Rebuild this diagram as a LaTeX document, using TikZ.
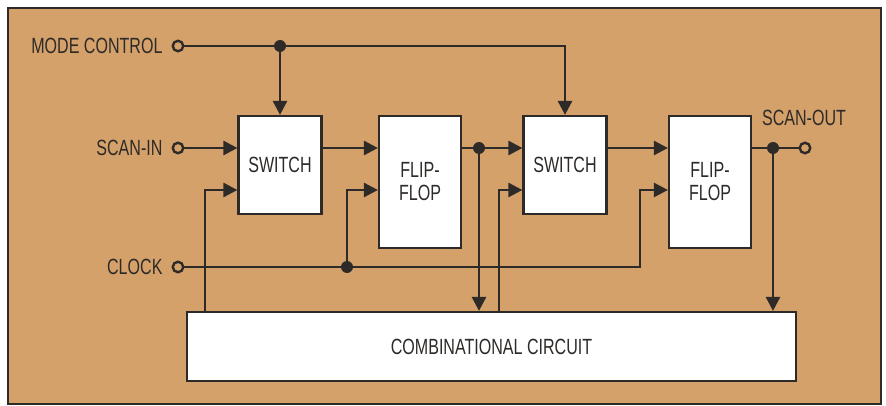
\documentclass[tikz,border=0pt]{standalone}
\usepackage{fontspec}
\newfontfamily\diagfont{Liberation Sans}[FakeStretch=0.73]
\usepackage{xcolor}
\usetikzlibrary{arrows.meta}
\definecolor{panel}{RGB}{212,161,106}
\definecolor{ink}{RGB}{45,42,40}

\begin{document}
\begin{tikzpicture}
  [x=1pt,y=-1pt,
  every node/.style={font=\diagfont\fontsize{22}{23}\selectfont,text=ink},
  block/.style={draw=ink,fill=white,line width=2.2pt,inner sep=0pt},
  switchbox/.style={block,minimum width=83pt,minimum height=98pt},
  ffbox/.style={block,minimum width=82pt,minimum height=132pt,align=center},
  dot/.style={circle,fill=ink,inner sep=0pt,minimum size=12pt},
  term/.style={circle,draw=ink,fill=panel,line width=2.4pt,inner sep=0pt,minimum size=10.5pt},
  wire/.style={draw=ink,line width=2.7pt},
  >={Triangle[length=14pt,width=14pt]}]

\useasboundingbox (0,0) rectangle (886,406);
\draw[draw=ink,fill=panel,line width=2.2pt] (8,8) rectangle (881,404);

% terminals
\node[term] (mc)  at (178,46)  {};
\node[term] (si)  at (178,148) {};
\node[term] (clk) at (178,267) {};
\node[term] (so)  at (805,148) {};
\node[anchor=east] (mcT)  at (166,46)  {MODE CONTROL};
\node[anchor=east] (siT)  at (166,148) {SCAN-IN};
\node[anchor=east] (clkT) at (166,267) {CLOCK};
\node (soT) at (804,118) {SCAN-OUT};

% blocks
\node[switchbox] (sw1) at (280,165) {SWITCH};
\node[ffbox]     (ff1) at (420,182) {FLIP-\\FLOP};
\node[switchbox] (sw2) at (565,165) {SWITCH};
\node[ffbox]     (ff2) at (710,182) {FLIP-\\FLOP};
\node[block,minimum width=609pt,minimum height=69pt] (comb) at (491.5,346.5)
  {COMBINATIONAL CIRCUIT};

% junctions
\node[dot] (d1) at (280,46)  {};
\node[dot] (d2) at (479,148) {};
\node[dot] (d3) at (347,267) {};
\node[dot] (d4) at (773,148) {};
\coordinate (row2) at (0,190);
\coordinate (fb1) at (205,312);
\coordinate (fb2) at (499,312);
\coordinate (ck2) at (640,267);

% mode control
\draw[wire] (mc) -- (d1);
\draw[wire,->] (d1) -- (d1 |- sw1.north);
\draw[wire,->] (d1) -| (sw2.north);
% scan path
\draw[wire,->] (si) -- (sw1.west |- si);
\draw[wire,->] (sw1.east |- si) -- (ff1.west |- si);
\draw[wire] (ff1.east |- d2) -- (d2);
\draw[wire,->] (d2) -- (sw2.west |- d2);
\draw[wire,->] (d2) -- (d2 |- comb.north);
\draw[wire,->] (sw2.east |- d2) -- (ff2.west |- d2);
\draw[wire] (ff2.east |- d4) -- (d4);
\draw[wire] (d4) -- (so);
\draw[wire,->] (d4) -- (d4 |- comb.north);
% feedback
\draw[wire,->] (fb1) |- (sw1.west |- row2);
\draw[wire,->] (fb2) |- (sw2.west |- row2);
% clock
\draw[wire] (clk) -- (d3);
\draw[wire,->] (d3) |- (ff1.west |- row2);
\draw[wire,->] (d3) -- (ck2) |- (ff2.west |- row2);
\end{tikzpicture}
\end{document}
